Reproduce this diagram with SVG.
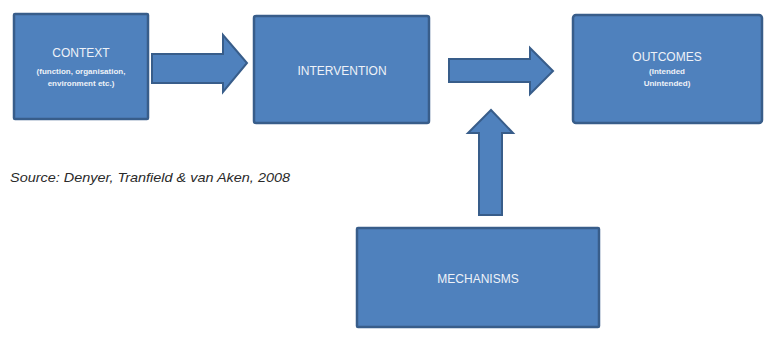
<svg xmlns="http://www.w3.org/2000/svg" width="771" height="343" viewBox="0 0 771 343">
<style>
.box{fill:#4f81bd;stroke:#385d8a;stroke-width:2.5}
.arr{fill:#4f81bd;stroke:#385d8a;stroke-width:2;stroke-linejoin:miter}
.t{font-family:"Liberation Sans",Arial,sans-serif;fill:#eef2f8;text-anchor:middle;font-size:12px}
.s{font-family:"Liberation Sans",Arial,sans-serif;fill:#eef2f8;text-anchor:middle;font-size:8px;font-weight:bold}
.src{font-family:"Liberation Sans",Arial,sans-serif;font-style:italic;font-size:13px;fill:#2a2a2a}
</style>
<rect width="771" height="343" fill="#ffffff"/>
<g id="connectors">
<path class="arr" d="M152,54 H223 V35 L247,63 L223,92 V83 H152 Z"/>
<path class="arr" d="M449,59 H530 V48 L553,71 L530,94 V82 H449 Z"/>
<path class="arr" d="M479,215 V133 H468 L491,110 L513,133 H502 V215 Z"/>
</g>
<g id="context">
<rect class="box" x="14" y="14" width="134" height="105" rx="1"/>
<text class="t" x="81" y="57">CONTEXT</text>
<text class="s" x="81" y="74">(function, organisation,</text>
<text class="s" x="81" y="86">environment etc.)</text>
</g>
<g id="intervention">
<rect class="box" x="254" y="16" width="175" height="107" rx="2"/>
<text class="t" x="342" y="75">INTERVENTION</text>
</g>
<g id="outcomes">
<rect class="box" x="573" y="15" width="189" height="108" rx="3"/>
<text class="t" x="667" y="61">OUTCOMES</text>
<text class="s" x="667" y="74">(Intended</text>
<text class="s" x="667" y="86">Unintended)</text>
</g>
<g id="mechanisms">
<rect class="box" x="357" y="228" width="242" height="99" rx="1"/>
<text class="t" x="478" y="283">MECHANISMS</text>
</g>
<text class="src" x="10" y="182" textLength="280" lengthAdjust="spacingAndGlyphs">Source: Denyer, Tranfield &amp; van Aken, 2008</text>
</svg>
